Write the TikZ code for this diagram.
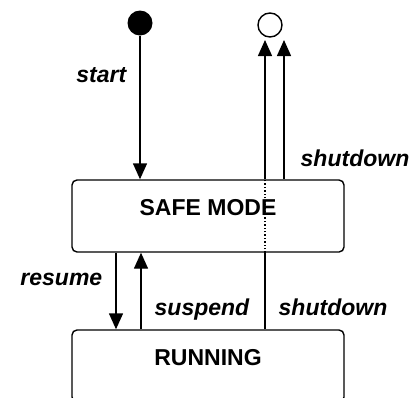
\documentclass[tikz,border=0pt]{standalone}
\usepackage{fontspec}
\setmainfont{Liberation Sans}
\usetikzlibrary{arrows.meta}

\begin{document}
\begin{tikzpicture}[x=1pt,y=-1pt,line width=1.4pt,
  arr/.style={-{Triangle[width=14pt,length=16pt]}},
  state/.style={draw,rectangle,rounded corners=5pt,minimum width=272pt,minimum height=72pt,
    font=\fontsize{23}{27}\selectfont\bfseries,text height=17pt,text depth=19pt},
  trans/.style={font=\fontsize{23}{27}\selectfont\bfseries\itshape,inner sep=0pt}]
\useasboundingbox (0,0) rectangle (412,397);
\clip (0,0) rectangle (412,397);
% pseudo states
\node[circle,fill=black,minimum size=25pt,inner sep=0pt] (init) at (140,23) {};
\node[circle,draw,minimum size=24pt,inner sep=0pt] (fin) at (270,25) {};
% states
\node[state] (safe) at (208,216) {SAFE MODE};
\node[state] (run) at (208,366) {RUNNING};
% x positions of the vertical transitions
\coordinate (res) at (116,0);
\coordinate (sus) at (141,0);
\coordinate (sdin) at (265,40);
\coordinate (sdout) at (284,40);
% transitions
\draw[arr] (init) -- (init |- safe.north);
\draw[arr] (res |- safe.south) -- (res |- run.north);
\draw[arr] (sus |- run.north) -- (sus |- safe.south);
\draw (sdin |- run.north) -- (sdin |- safe.south);
\draw[dotted] (sdin |- safe.south) -- (sdin |- safe.north);
\draw[arr] (sdin |- safe.north) -- (sdin);
\draw[arr] (sdout |- safe.north) -- (sdout);
% labels
\node[trans,anchor=base east] (lstart) at (127,82) {start};
\node[trans,anchor=base west] (lshut1) at (300,166) {shutdown};
\node[trans,anchor=base east] (lres) at (103,285) {resume};
\node[trans,anchor=base west] (lsus) at (154,315) {suspend};
\node[trans,anchor=base west] (lshut2) at (278,315) {shutdown};
\end{tikzpicture}
\end{document}
